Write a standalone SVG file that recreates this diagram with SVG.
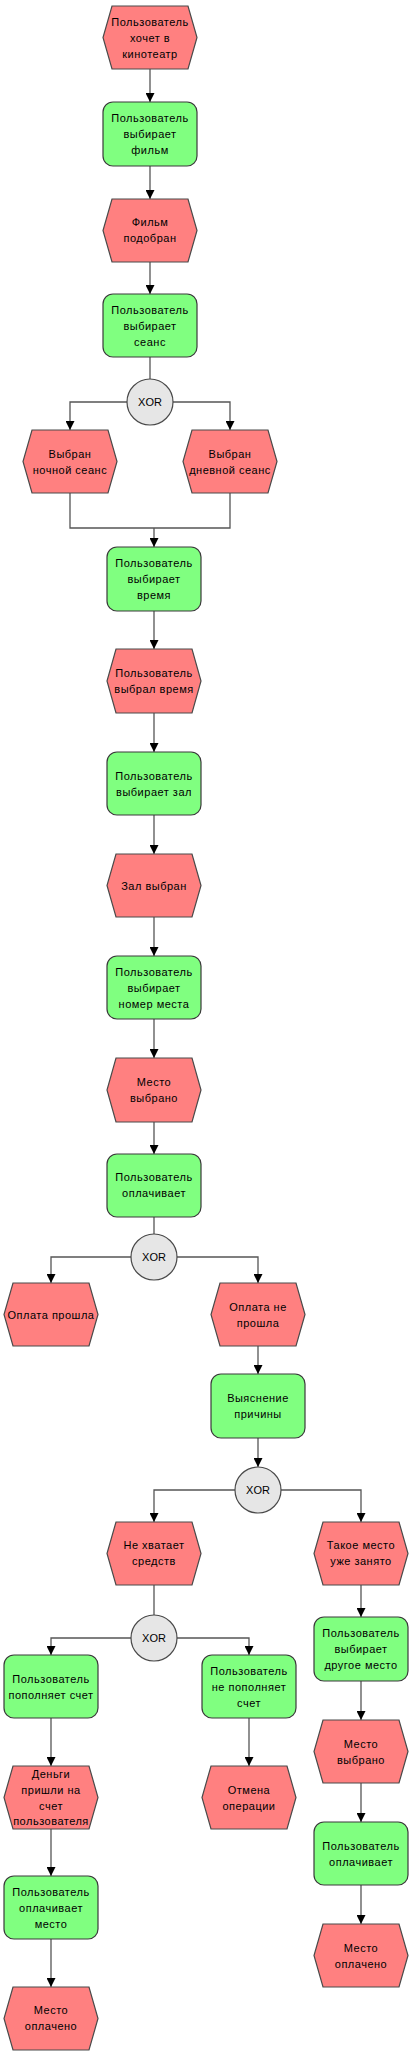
<svg xmlns="http://www.w3.org/2000/svg" width="411" height="2056" viewBox="0 0 411 2056">
<style>
.ev{fill:#FF8080;stroke:#4a4a4a;stroke-width:1.2}
.fn{fill:#80FF80;stroke:#3a3a3a;stroke-width:1.2}
.xor{fill:#E6E6E6;stroke:#4a4a4a;stroke-width:1.2}
text{font-family:"Liberation Sans",Arial,sans-serif;font-size:11px;fill:#000;text-anchor:middle;letter-spacing:0.5px}
.c path{fill:none;stroke:#555;stroke-width:1.3}
.c path.a{marker-end:url(#arr)}
</style>
<defs>
<marker id="arr" markerWidth="9" markerHeight="9" refX="9" refY="4.5" orient="auto" markerUnits="userSpaceOnUse"><path d="M0,0 L9,4.5 L0,9 z" fill="#000"/></marker>
</defs>
<g class="c" id="connectors">
<path class="a" d="M150,69 V102"/>
<path class="a" d="M150,166 V199"/>
<path class="a" d="M150,262 V294"/>
<path d="M150,357 V379"/>
<path class="a" d="M127,402 H70 V430"/>
<path class="a" d="M173,402 H230 V430"/>
<path d="M70,493 V528 H230 V493"/>
<path class="a" d="M154,528 V547"/>
<path class="a" d="M154,611 V649"/>
<path class="a" d="M154,713 V752"/>
<path class="a" d="M154,815 V854"/>
<path class="a" d="M154,917 V956"/>
<path class="a" d="M154,1019 V1058"/>
<path class="a" d="M154,1122 V1154"/>
<path d="M154,1217 V1234"/>
<path class="a" d="M131,1257 H51 V1283"/>
<path class="a" d="M177,1257 H258 V1283"/>
<path class="a" d="M258,1346 V1374"/>
<path class="a" d="M258,1438 V1467"/>
<path class="a" d="M235,1490 H154 V1522"/>
<path class="a" d="M281,1490 H361 V1522"/>
<path d="M154,1585 V1615"/>
<path class="a" d="M131,1638 H51 V1655"/>
<path class="a" d="M177,1638 H249 V1655"/>
<path class="a" d="M361,1585 V1617"/>
<path class="a" d="M361,1681 V1720"/>
<path class="a" d="M361,1783 V1822"/>
<path class="a" d="M361,1885 V1924"/>
<path class="a" d="M51,1718 V1766"/>
<path class="a" d="M51,1829 V1876"/>
<path class="a" d="M51,1939 V1987"/>
<path class="a" d="M249,1718 V1766"/>
</g>
<g id="e1"><polygon class="ev" points="112,6 188,6 197,37.5 188,69 112,69 103,37.5"/><text x="150" y="26">Пользователь</text><text x="150" y="42">хочет в</text><text x="150" y="58">кинотеатр</text></g>
<g id="f1"><rect class="fn" x="103" y="102" width="94" height="64" rx="10"/><text x="150" y="122">Пользователь</text><text x="150" y="138">выбирает</text><text x="150" y="154">фильм</text></g>
<g id="e2"><polygon class="ev" points="112,199 188,199 197,230.5 188,262 112,262 103,230.5"/><text x="150" y="226">Фильм</text><text x="150" y="242">подобран</text></g>
<g id="f2"><rect class="fn" x="103" y="294" width="94" height="63" rx="10"/><text x="150" y="314">Пользователь</text><text x="150" y="330">выбирает</text><text x="150" y="346">сеанс</text></g>
<g id="x1"><circle class="xor" cx="150" cy="402" r="23"/><text x="150" y="406" style="letter-spacing:0">XOR</text></g>
<g id="e3"><polygon class="ev" points="32,430 108,430 117,461.5 108,493 32,493 23,461.5"/><text x="70" y="458">Выбран</text><text x="70" y="474">ночной сеанс</text></g>
<g id="e4"><polygon class="ev" points="192,430 268,430 277,461.5 268,493 192,493 183,461.5"/><text x="230" y="458">Выбран</text><text x="230" y="474">дневной сеанс</text></g>
<g id="f3"><rect class="fn" x="107" y="547" width="94" height="64" rx="10"/><text x="154" y="567">Пользователь</text><text x="154" y="583">выбирает</text><text x="154" y="599">время</text></g>
<g id="e5"><polygon class="ev" points="116,649 192,649 201,681 192,713 116,713 107,681"/><text x="154" y="677">Пользователь</text><text x="154" y="693">выбрал время</text></g>
<g id="f4"><rect class="fn" x="107" y="752" width="94" height="63" rx="10"/><text x="154" y="780">Пользователь</text><text x="154" y="796">выбирает зал</text></g>
<g id="e6"><polygon class="ev" points="116,854 192,854 201,885.5 192,917 116,917 107,885.5"/><text x="154" y="890">Зал выбран</text></g>
<g id="f5"><rect class="fn" x="107" y="956" width="94" height="63" rx="10"/><text x="154" y="976">Пользователь</text><text x="154" y="992">выбирает</text><text x="154" y="1008">номер места</text></g>
<g id="e7"><polygon class="ev" points="116,1058 192,1058 201,1090 192,1122 116,1122 107,1090"/><text x="154" y="1086">Место</text><text x="154" y="1102">выбрано</text></g>
<g id="f6"><rect class="fn" x="107" y="1154" width="94" height="63" rx="10"/><text x="154" y="1181">Пользователь</text><text x="154" y="1197">оплачивает</text></g>
<g id="x2"><circle class="xor" cx="154" cy="1257" r="23"/><text x="154" y="1261" style="letter-spacing:0">XOR</text></g>
<g id="e8"><polygon class="ev" points="13,1283 89,1283 98,1314.5 89,1346 13,1346 4,1314.5"/><text x="51" y="1319">Оплата прошла</text></g>
<g id="e9"><polygon class="ev" points="220,1283 296,1283 305,1314.5 296,1346 220,1346 211,1314.5"/><text x="258" y="1311">Оплата не</text><text x="258" y="1327">прошла</text></g>
<g id="f7"><rect class="fn" x="211" y="1374" width="94" height="64" rx="10"/><text x="258" y="1402">Выяснение</text><text x="258" y="1418">причины</text></g>
<g id="x3"><circle class="xor" cx="258" cy="1490" r="23"/><text x="258" y="1494" style="letter-spacing:0">XOR</text></g>
<g id="e10"><polygon class="ev" points="116,1522 192,1522 201,1553.5 192,1585 116,1585 107,1553.5"/><text x="154" y="1549">Не хватает</text><text x="154" y="1565">средств</text></g>
<g id="e11"><polygon class="ev" points="323,1522 399,1522 408,1553.5 399,1585 323,1585 314,1553.5"/><text x="361" y="1549">Такое место</text><text x="361" y="1565">уже занято</text></g>
<g id="x4"><circle class="xor" cx="154" cy="1638" r="23"/><text x="154" y="1642" style="letter-spacing:0">XOR</text></g>
<g id="f8"><rect class="fn" x="4" y="1655" width="94" height="63" rx="10"/><text x="51" y="1683">Пользователь</text><text x="51" y="1699">пополняет счет</text></g>
<g id="f9"><rect class="fn" x="202" y="1655" width="94" height="63" rx="10"/><text x="249" y="1675">Пользователь</text><text x="249" y="1691">не пополняет</text><text x="249" y="1707">счет</text></g>
<g id="f10"><rect class="fn" x="314" y="1617" width="94" height="64" rx="10"/><text x="361" y="1637">Пользователь</text><text x="361" y="1653">выбирает</text><text x="361" y="1669">другое место</text></g>
<g id="e12"><polygon class="ev" points="323,1720 399,1720 408,1751.5 399,1783 323,1783 314,1751.5"/><text x="361" y="1748">Место</text><text x="361" y="1764">выбрано</text></g>
<g id="f11"><rect class="fn" x="314" y="1822" width="94" height="63" rx="10"/><text x="361" y="1850">Пользователь</text><text x="361" y="1866">оплачивает</text></g>
<g id="e13"><polygon class="ev" points="323,1924 399,1924 408,1955.5 399,1987 323,1987 314,1955.5"/><text x="361" y="1952">Место</text><text x="361" y="1968">оплачено</text></g>
<g id="e14"><polygon class="ev" points="13,1766 89,1766 98,1797.5 89,1829 13,1829 4,1797.5"/><text x="51" y="1778">Деньги</text><text x="51" y="1794">пришли на</text><text x="51" y="1810">счет</text><text x="51" y="1825">пользователя</text></g>
<g id="f12"><rect class="fn" x="4" y="1876" width="94" height="63" rx="10"/><text x="51" y="1896">Пользователь</text><text x="51" y="1912">оплачивает</text><text x="51" y="1928">место</text></g>
<g id="e15"><polygon class="ev" points="13,1987 89,1987 98,2018.5 89,2050 13,2050 4,2018.5"/><text x="51" y="2014">Место</text><text x="51" y="2030">оплачено</text></g>
<g id="e16"><polygon class="ev" points="211,1766 287,1766 296,1797.5 287,1829 211,1829 202,1797.5"/><text x="249" y="1794">Отмена</text><text x="249" y="1810">операции</text></g>
</svg>
